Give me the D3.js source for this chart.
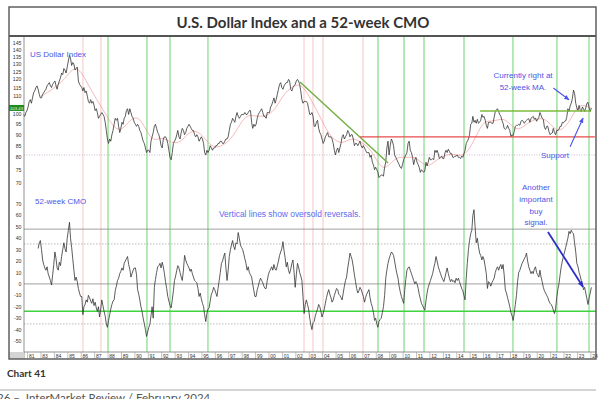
<!DOCTYPE html>
<html>
<head>
<meta charset="utf-8">
<script src="https://cdn.jsdelivr.net/npm/d3@7"></script>
<style>
  body { margin: 0; background: #fff; }
  svg { display: block; font-family: "Liberation Sans", Arial, sans-serif; }
</style>
</head>
<body>
<div id="chart"></div>
<script>
// Dollar index, one value per month (Sep 1981 - Jan 2024)
const priceStart = new Date(1981, 8, 15);
const dollarIndex = [
  100, 99, 101, 102,                                              // 1981 Sep-Dec
  104, 107, 108, 106, 109, 112, 113, 115, 116, 114, 111, 109,     // 1982
  109, 111, 112, 113, 114, 116, 117, 118, 116, 115, 117, 118,     // 1983
  119, 116, 114, 117, 119, 121, 124, 123, 127, 126, 124, 128,     // 1984
  132, 136, 134, 129, 131, 130, 126, 127, 128, 119, 117, 116,     // 1985
  115, 113, 115, 112, 113, 110, 107, 106, 108, 106, 107, 105,     // 1986
  102, 103, 101, 98, 99, 100, 101, 100, 99, 96, 92, 88,           // 1987
  86, 88, 87, 90, 92, 95, 98, 97, 98, 94, 91, 93,                 // 1988
  96, 95, 98, 99, 102, 103, 100, 103, 101, 99, 98, 96,            // 1989
  95, 94, 95, 94, 92, 91, 89, 87, 86, 84, 82, 83,                 // 1990
  83, 82, 87, 89, 91, 94, 95, 93, 91, 90, 88, 85,                 // 1991
  84, 88, 89, 89, 88, 86, 83, 80, 79, 82, 86, 87,                 // 1992
  88, 90, 92, 89, 88, 91, 93, 92, 90, 91, 93, 94,                 // 1993
  95, 94, 93, 92, 92, 90, 89, 90, 89, 87, 88, 89,                 // 1994
  88, 86, 82, 81, 83, 82, 83, 85, 84, 83, 84, 84,                 // 1995
  85, 85, 86, 86, 87, 87, 86, 86, 87, 88, 88, 89,                 // 1996
  92, 95, 96, 98, 97, 96, 99, 101, 99, 98, 99, 100,               // 1997
  100, 100, 101, 100, 100, 101, 102, 102, 96, 93, 95, 94,         // 1998
  95, 98, 100, 101, 102, 103, 101, 99, 99, 98, 101, 101,          // 1999
  101, 104, 105, 107, 109, 106, 108, 111, 114, 117, 118, 115,     // 2000
  114, 116, 117, 118, 118, 120, 119, 114, 113, 115, 116, 117,     // 2001
  119, 120, 119, 117, 113, 108, 106, 107, 107, 107, 106, 103,     // 2002
  100, 100, 101, 99, 94, 94, 96, 97, 93, 91, 90, 88,              // 2003
  86, 87, 89, 90, 91, 89, 89, 89, 88, 86, 83, 81,                 // 2004
  83, 84, 82, 84, 86, 89, 90, 88, 89, 90, 92, 91,                 // 2005
  89, 90, 90, 88, 85, 86, 86, 85, 86, 87, 85, 84,                 // 2006
  85, 84, 83, 82, 82, 82, 80, 81, 78, 77, 75, 76,                 // 2007
  75, 74, 72, 72.5, 73, 73, 72.5, 76, 78, 84, 87, 81,             // 2008
  85, 88, 87, 85, 81, 80, 79, 78, 77, 76, 75.5, 77,               // 2009
  79, 80, 81, 82, 86, 87, 83, 82, 80, 77, 79, 80,                 // 2010
  78, 77, 76, 74, 75, 74.5, 74, 74.5, 78, 76.5, 78, 80,           // 2011
  79, 79, 79.5, 79, 83, 82, 83, 81.5, 79.5, 80, 80.5, 79.5,       // 2012
  79.5, 82, 83, 82, 83.5, 82.5, 81.5, 81.5, 80, 80, 80.5, 80.5,   // 2013
  81, 80, 80, 79.5, 80.5, 80, 81.5, 83, 86, 87, 88, 90,           // 2014
  95, 95.5, 99, 96, 97, 95.5, 97.5, 95.5, 96, 97, 100, 98.5,      // 2015
  99, 97, 94.5, 93, 96, 96, 96, 95.5, 95.5, 98.5, 101.5, 102.5,   // 2016
  103, 101.5, 100, 99, 97, 95.5, 93, 92.5, 93, 94.5, 93, 92,      // 2017
  89, 90, 89.5, 91.5, 94, 94.5, 94.5, 95, 94.5, 96.5, 97, 96.5,   // 2018
  95.5, 96.5, 97, 97.5, 97.8, 96, 98, 98.5, 99, 97.5, 98.2, 96.5, // 2019
  97.5, 98.5, 101, 99.5, 98, 97.5, 93.5, 92.5, 94, 94, 91.5, 90,  // 2020
  90.5, 90.8, 93, 91, 90, 92, 92, 92.5, 94, 94, 96, 95.7,         // 2021
  96.5, 96.7, 98.5, 103, 101.5, 104.5, 106, 108.5, 113.5, 111.5, 106, 103.5, // 2022
  102, 104.8, 102.5, 101.5, 104, 103, 101.5, 103.5, 106, 106.5, 103.5, 101.5, // 2023
  103.43                                                          // 2024 Jan
];

// 52-week moving average, every half year from 1983
const maStartYear = 1983;
const movingAvg = [
  110, 112, 115, 118, 123, 128, 125, 117, 110, 104, 98, 93, 92, 96, 99, 97,
  90, 87, 89, 87, 86, 87, 91, 92, 90, 86, 84, 85, 87, 91, 97, 100,
  99, 99, 100, 103, 110, 114, 117, 116, 110, 103, 96, 90, 87, 86, 88, 88,
  86, 84, 79, 75, 77, 80, 80, 80, 80, 77, 76.5, 79, 80.5, 81.5, 81, 80.5,
  84, 90, 96.5, 96.5, 97, 98, 95, 92, 94, 96.5, 97.7, 98, 95, 91.5, 93, 97.5,
  104.5, 105, 103.5
];

// 52-week CMO, one value per month (Oct 1982 - Jan 2024)
const cmoStart = new Date(1982, 9, 15);
const cmo52 = [
  31, 36, 38,                                                     // 1982 Oct-Dec
  30, 21, 17, 14, 12, 15, 9, 6, 3, -1, 8, 17,                     // 1983
  28, 22, 14, 12, 19, 16, 24, 30, 36, 31, 28, 40,                 // 1984
  47, 54, 40, 32, 22, 12, 3, 6, 2, -4, -8, -11,                   // 1985
  -11, -27, -20, -18, -14, -16, -10, -12, -15, -17, -13, -19,     // 1986
  -16, -21, -24, -20, -29, -22, -14, -19, -24, -28, -35, -38,     // 1987
  -32, -27, -22, -18, -15, -14, -6, -2, 3, 5, 9, 11,              // 1988
  14, 12, 18, 20, 22, 24, 17, 13, 6, 9, 12, 14,                   // 1989
  14, 8, -5, -9, -14, -20, -24, -30, -35, -40, -46, -42,          // 1990
  -38, -35, -28, -20, -30, -3, 4, 10, 15, 16, 18, 14,             // 1991
  19, 15, 9, 2, -4, -11, -15, -19, -21, -14, -6, 3,               // 1992
  7, 12, 16, 14, 10, 6, 3, 12, 25, 21, 18, 16,                    // 1993
  14, 11, 13, 9, 6, 3, 2, 1, -4, -11, -8, -13,                    // 1994
  -17, -20, -27, -33, -26, -22, -21, -15, -9, -7, -3, -5,         // 1995
  -8, -11, -4, 3, 10, 18, 20, 24, 27, 14, 3, 12,                  // 1996
  24, 30, 34, 38, 33, 30, 36, 35, 45, 40, 34, 32,                 // 1997
  30, 26, 22, 18, 12, 15, 10, 8, 6, 0, -6, -11,                   // 1998
  -11, -5, -2, 2, 5, 3, 1, -2, -4, -4, 3, 8,                      // 1999
  11, 13, 15, 12, 17, 13, 12, 16, 20, 25, 28, 31,                 // 2000
  37, 29, 23, 15, 19, 12, 9, 13, 18, 21, 10, -3,                  // 2001
  8, 18, 15, 10, 7, 3, -11, -26, -18, -14, -18, -22,              // 2002
  -30, -36, -40, -34, -33, -28, -25, -22, -18, -20, -24, -29,     // 2003
  -26, -22, -17, -12, -8, -5, -9, -12, -16, -14, -10, -7,         // 2004
  -4, -5, -9, -10, -12, -14, -8, -2, 3, 6, 14, 20,                // 2005
  27, 24, 21, 15, 8, 2, -4, -8, -6, -3, -5, -8,                   // 2006
  -11, -16, -12, -9, -7, -5, -12, -17, -20, -25, -32, -30,        // 2007
  -35, -38, -33, -31, -30, -25, -20, -10, 5, 12, 18, 22,          // 2008
  25, 28, 27, 25, 20, 14, 9, 5, -2, -7, -11, -14,                 // 2009
  -17, -5, 4, 12, 14, 15, 12, 9, 6, 3, 0, 2,                      // 2010
  0, -4, -9, -13, -17, -19, -21, -23, -15, -8, -3, 0,             // 2011
  3, 6, 9, 14, 18, 24, 20, 15, 12, 9, 6, 4,                       // 2012
  2, 6, 10, 14, 9, 5, 2, 4, 2, 3, 1, 5,                           // 2013
  3, 5, 2, -1, -4, -6, -10, -14, 5, 18, 30, 38,                   // 2014
  44, 47, 60, 65, 50, 36, 40, 33, 27, 25, 21, 24,                 // 2015
  21, 15, 9, -4, 2, 1, -2, 1, 3, 5, 10, 13,                       // 2016
  15, 12, 15, 17, 13, 17, 8, -5, -8, -12, -16, -20,               // 2017
  -25, -28, -32, -26, -18, -10, 2, 10, 12, 15, 18, 20,            // 2018
  22, 24, 27, 20, 15, 12, 9, 11, 9, 13, 15, 10,                   // 2019
  8, 6, 12, 6, 2, -3, -6, -8, -10, -12, -15, -17,                 // 2020
  -18, -20, -23, -26, -22, -12, -5, 0, 8, 15, 20, 24,             // 2021
  28, 32, 36, 40, 46, 44, 47, 45, 44, 36, 28, 18,                 // 2022
  15, 10, 7, 3, 0, -5, -3, -8, -13, -18, -12, -8,                 // 2023
  -3                                                              // 2024 Jan
];

// Oversold reversals (green) and other marked dates (pink), decimal years
const reversalYears = [1988.0, 1990.9, 1992.62, 1995.45, 2008.13, 2010.07, 2011.56, 2014.54, 2018.19, 2021.47, 2023.86];
const markerYears = [1986.13, 1987.47, 2002.61, 2003.28, 2004.03, 2007.01];

// Drawn trend lines: [year, value]
const downTrend = [[2002.31, 118.4], [2008.88, 77.7]];
const resistance = [[2006.79, 89], [2024.3, 89]];
const support = [[2015.74, 101.8], [2024.0, 101.8]];
const priceDotted = 81;

// CMO reference levels
const cmoSolid = [48, 0];
const cmoDotted = [35, -35];
const cmoSignal = -24;

// Axis ticks (105 sits under the last-value tag in the original)
const priceTicks = [145, 140, 135, 130, 125, 120, 115, 110, 100, 95, 90, 85, 80, 75, 70];
const cmoTicks = [70, 60, 50, 40, 30, 20, 10, 0, -10, -20, -30, -40, -50];
const yearTicks = d3.range(1982, 2025);
const yearLabels = ["81", "83", "84", "85", "86", "87", "88", "89", "90", "91", "92", "93", "94", "95",
  "96", "97", "98", "99", "00", "01", "02", "03", "04", "05", "06", "07", "08", "09", "10", "11",
  "12", "13", "14", "15", "16", "17", "18", "19", "20", "21", "22", "23", "24"];

// Annotation arrows: [year, value]
const maArrow = [[2021.2, 114.7], [2022.37, 107.9]];
const supportArrow = [[2022.45, 84.5], [2023.42, 98.2]];
const buyArrow = [[2020.8, 45.5], [2023.42, -2.7]];

// ---- layout ----
const W = 600, H = 399;
const frame = { left: 9, top: 7, right: 596, bottom: 359 };
const plotLeft = 24, plotTop = 37, axisTop = 352;
const annoColor = "#4b55e6";

function yearToDate(y) {
  const yr = Math.floor(y);
  const s = new Date(yr, 0, 1), e = new Date(yr + 1, 0, 1);
  return new Date(+s + (y - yr) * (e - s));
}

const x = d3.scaleTime()
  .domain([yearToDate(1981.732), yearToDate(2024.01)])
  .range([plotLeft, 591]);
const yPrice = d3.scaleLog().domain([70, 145]).range([183, 43]);
const yCmo = d3.scaleLinear().domain([-50, 70]).range([341, 204]);

const svg = d3.select("#chart").append("svg")
  .attr("width", W)
  .attr("height", H);

const priceData = dollarIndex.map((v, i) => ({ date: d3.timeMonth.offset(priceStart, i), v }));
const cmoData = cmo52.map((v, i) => ({ date: d3.timeMonth.offset(cmoStart, i), v }));
const maData = movingAvg.map((v, i) => ({ date: yearToDate(maStartYear + i * 0.5), v }));

// Title
svg.append("text")
  .attr("x", 303).attr("y", 28)
  .attr("text-anchor", "middle")
  .style("font-family", "Lato, sans-serif")
  .style("font-weight", "bold")
  .style("font-size", "15px")
  .attr("fill", "#333")
  .text("U.S. Dollar Index and a 52-week CMO");

// Vertical marker lines
svg.append("g").selectAll("line")
  .data(markerYears)
  .join("line")
  .attr("x1", d => x(yearToDate(d))).attr("x2", d => x(yearToDate(d)))
  .attr("y1", plotTop).attr("y2", axisTop)
  .attr("stroke", "#f2b8b8").attr("stroke-width", 0.8);

svg.append("g").selectAll("line")
  .data(reversalYears)
  .join("line")
  .attr("x1", d => x(yearToDate(d))).attr("x2", d => x(yearToDate(d)))
  .attr("y1", plotTop).attr("y2", axisTop)
  .attr("stroke", "#86d986").attr("stroke-width", 1.2);

// Reference lines
svg.append("line")
  .attr("x1", plotLeft).attr("x2", frame.right)
  .attr("y1", yPrice(priceDotted)).attr("y2", yPrice(priceDotted))
  .attr("stroke", "#c0a8c4").attr("stroke-width", 0.8).attr("stroke-dasharray", "1,1.5");

svg.append("g").selectAll("line")
  .data(cmoSolid)
  .join("line")
  .attr("x1", plotLeft).attr("x2", frame.right)
  .attr("y1", d => yCmo(d)).attr("y2", d => yCmo(d))
  .attr("stroke", "#888").attr("stroke-width", 0.8);

svg.append("g").selectAll("line")
  .data(cmoDotted)
  .join("line")
  .attr("x1", plotLeft).attr("x2", frame.right)
  .attr("y1", d => yCmo(d)).attr("y2", d => yCmo(d))
  .attr("stroke", "#aaa").attr("stroke-width", 0.8).attr("stroke-dasharray", "1.5,1.5");

svg.append("line")
  .attr("x1", plotLeft).attr("x2", frame.right)
  .attr("y1", yCmo(cmoSignal)).attr("y2", yCmo(cmoSignal))
  .attr("stroke", "#3fd43f").attr("stroke-width", 1.5);

// Moving average
svg.append("path")
  .datum(maData)
  .attr("fill", "none")
  .attr("stroke", "#f08a8a")
  .attr("stroke-width", 0.6)
  .attr("d", d3.line().x(d => x(d.date)).y(d => yPrice(d.v)).curve(d3.curveBasis));

// Price
svg.append("path")
  .datum(priceData)
  .attr("fill", "none")
  .attr("stroke", "#333")
  .attr("stroke-width", 0.8)
  .attr("d", d3.line().x(d => x(d.date)).y(d => yPrice(d.v)));

// CMO
svg.append("path")
  .datum(cmoData)
  .attr("fill", "none")
  .attr("stroke", "#333")
  .attr("stroke-width", 0.8)
  .attr("d", d3.line().x(d => x(d.date)).y(d => yCmo(d.v)));

// Trend lines
const priceLine = d3.line().x(d => x(yearToDate(d[0]))).y(d => yPrice(d[1]));
svg.append("path").attr("d", priceLine(downTrend))
  .attr("stroke", "#74b045").attr("stroke-width", 1.5).attr("fill", "none");
svg.append("path").attr("d", priceLine(resistance))
  .attr("stroke", "#e84a4a").attr("stroke-width", 1.3).attr("fill", "none");
svg.append("path").attr("d", priceLine(support))
  .attr("stroke", "#7cba3c").attr("stroke-width", 1.5).attr("fill", "none");

// Arrows
const defs = svg.append("defs");
defs.append("marker")
  .attr("id", "head")
  .attr("viewBox", "0 0 10 10")
  .attr("refX", 9).attr("refY", 5)
  .attr("markerWidth", 5).attr("markerHeight", 5)
  .attr("orient", "auto")
  .append("path").attr("d", "M0,1 L10,5 L0,9 Z").attr("fill", annoColor);
defs.append("marker")
  .attr("id", "head2")
  .attr("viewBox", "0 0 10 10")
  .attr("refX", 9).attr("refY", 5)
  .attr("markerWidth", 3.5).attr("markerHeight", 3.5)
  .attr("orient", "auto")
  .append("path").attr("d", "M0,1 L10,5 L0,9 Z").attr("fill", "#2e2ec8");

svg.append("path").attr("d", priceLine(maArrow))
  .attr("stroke", annoColor).attr("stroke-width", 1.1).attr("marker-end", "url(#head)");
svg.append("path").attr("d", priceLine(supportArrow))
  .attr("stroke", annoColor).attr("stroke-width", 1.1).attr("marker-end", "url(#head)");
const cmoLine = d3.line().x(d => x(yearToDate(d[0]))).y(d => yCmo(d[1]));
svg.append("path").attr("d", cmoLine(buyArrow))
  .attr("stroke", "#2e2ec8").attr("stroke-width", 1.8).attr("marker-end", "url(#head2)");

// Annotation text
const notes = [
  { x: 30, y: 57, a: "start", t: "US Dollar Index" },
  { x: 35, y: 204, a: "start", t: "52-week CMO" },
  { x: 219, y: 217, a: "start", t: "Vertical lines show oversold reversals.", c: "#5b6cf0", s: 8.4 },
  { x: 523, y: 78, a: "middle", t: "Currently right at" },
  { x: 523, y: 90, a: "middle", t: "52-week MA." },
  { x: 555, y: 158, a: "middle", t: "Support" },
  { x: 536, y: 190, a: "middle", t: "Another" },
  { x: 536, y: 202, a: "middle", t: "important" },
  { x: 536, y: 214, a: "middle", t: "buy" },
  { x: 536, y: 225, a: "middle", t: "signal." }
];
svg.append("g").selectAll("text")
  .data(notes)
  .join("text")
  .attr("x", d => d.x).attr("y", d => d.y)
  .attr("text-anchor", d => d.a)
  .attr("fill", d => d.c || annoColor)
  .style("font-size", d => (d.s || 8) + "px")
  .text(d => d.t);

// Left gutter and y labels
svg.append("line")
  .attr("x1", plotLeft).attr("x2", plotLeft)
  .attr("y1", 36).attr("y2", frame.bottom)
  .attr("stroke", "#777").attr("stroke-width", 0.8);

svg.append("g").selectAll("text")
  .data(priceTicks)
  .join("text")
  .attr("x", 21.5).attr("y", d => yPrice(d) + 2)
  .attr("text-anchor", "end")
  .attr("fill", "#333")
  .style("font-size", "5.2px")
  .text(d => d);

svg.append("g").selectAll("text")
  .data(cmoTicks)
  .join("text")
  .attr("x", 21.5).attr("y", d => yCmo(d) + 2)
  .attr("text-anchor", "end")
  .attr("fill", "#333")
  .style("font-size", "5.2px")
  .text(d => d);

// Last value tag
const last = dollarIndex[dollarIndex.length - 1];
svg.append("rect")
  .attr("x", frame.left).attr("y", yPrice(last) - 3)
  .attr("width", plotLeft - frame.left).attr("height", 6)
  .attr("fill", "#1f8a1f");
svg.append("text")
  .attr("x", (frame.left + plotLeft) / 2).attr("y", yPrice(last) + 1.6)
  .attr("text-anchor", "middle")
  .attr("fill", "#e8ffe8")
  .style("font-size", "4.3px")
  .text(last.toFixed(2));

// X axis band
svg.append("rect")
  .attr("x", frame.left).attr("y", axisTop)
  .attr("width", plotLeft - frame.left).attr("height", frame.bottom - axisTop)
  .attr("fill", "#d4d4d4");
svg.append("line")
  .attr("x1", plotLeft).attr("x2", frame.right)
  .attr("y1", axisTop).attr("y2", axisTop)
  .attr("stroke", "#777").attr("stroke-width", 0.8);

const xt = svg.append("g").selectAll("g")
  .data(yearTicks)
  .join("g")
  .attr("transform", d => `translate(${x(new Date(d, 0, 1))},0)`);
xt.append("line")
  .attr("y1", axisTop).attr("y2", frame.bottom)
  .attr("stroke", "#999").attr("stroke-width", 0.6);
xt.append("text")
  .attr("x", 1.3).attr("y", 357.6)
  .attr("fill", "#333")
  .style("font-size", "5px")
  .text((d, i) => yearLabels[i]);

// Frame
svg.append("rect")
  .attr("x", frame.left).attr("y", frame.top)
  .attr("width", frame.right - frame.left).attr("height", frame.bottom - frame.top)
  .attr("fill", "none").attr("stroke", "#555").attr("stroke-width", 1.4);
svg.append("line")
  .attr("x1", frame.left).attr("x2", frame.right)
  .attr("y1", 36).attr("y2", 36)
  .attr("stroke", "#555").attr("stroke-width", 2);

// Caption and footer (footer is cut by the bottom edge, as in the original)
svg.append("text")
  .attr("x", 7).attr("y", 377)
  .style("font-family", "Lato, sans-serif")
  .style("font-weight", "bold")
  .style("font-size", "10px")
  .attr("fill", "#333")
  .text("Chart 41");
svg.append("line")
  .attr("x1", 0).attr("x2", frame.right)
  .attr("y1", 390).attr("y2", 390)
  .attr("stroke", "#aaa").attr("stroke-width", 1);
svg.append("text")
  .attr("x", -3).attr("y", 402)
  .style("font-family", "Lato, sans-serif")
  .style("font-size", "11.5px")
  .attr("fill", "#555")
  .attr("xml:space", "preserve")
  .text("26 \u2013  InterMarket Review / February 2024");
</script>
</body>
</html>
